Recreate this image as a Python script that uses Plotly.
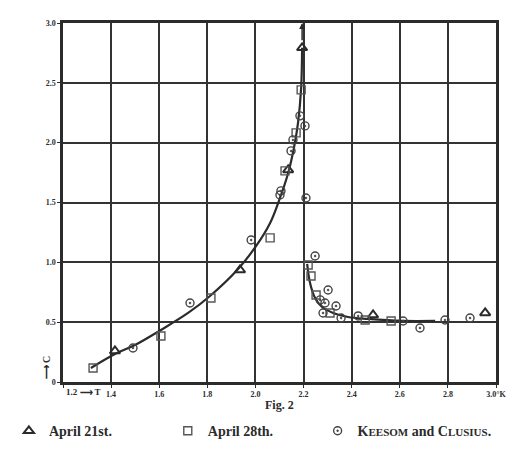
import plotly.graph_objects as go

# ---- data (T in K, specific heat) ----
curve_low_T = [1.316, 1.416, 1.499, 1.607, 1.720, 1.811, 1.928, 2.003, 2.061, 2.102, 2.136, 2.160, 2.177, 2.190, 2.194]
curve_low_C = [0.117, 0.234, 0.309, 0.435, 0.577, 0.719, 0.945, 1.137, 1.329, 1.538, 1.747, 1.956, 2.165, 2.458, 2.793]
curve_high_T = [2.215, 2.227, 2.248, 2.277, 2.323, 2.385, 2.468, 2.614, 2.747]
curve_high_C = [0.987, 0.828, 0.702, 0.627, 0.577, 0.543, 0.527, 0.510, 0.510]

tri_T = [2.194, 2.489, 2.955, 1.936, 1.416, 2.136]
tri_C = [2.793, 0.560, 0.577, 0.936, 0.259, 1.772]

sq_T = [1.325, 1.607, 1.815, 2.061, 2.123, 2.169, 2.190, 2.219, 2.231, 2.252, 2.310, 2.564, 2.456]
sq_C = [0.117, 0.385, 0.702, 1.204, 1.764, 2.082, 2.441, 0.978, 0.886, 0.727, 0.577, 0.510, 0.518]

circ_T = [1.491, 1.728, 1.982, 2.106, 2.156, 2.148, 2.185, 2.206, 2.210, 2.248, 2.302, 2.269, 2.289, 2.335, 2.281, 2.356, 2.427, 2.614, 2.684, 2.788, 2.892, 2.102]
circ_C = [0.284, 0.660, 1.187, 1.597, 2.023, 1.931, 2.224, 2.140, 1.538, 1.053, 0.769, 0.686, 0.660, 0.635, 0.577, 0.535, 0.552, 0.510, 0.451, 0.518, 0.535, 1.563]

x_ticks = [1.2, 1.4, 1.6, 1.8, 2.0, 2.2, 2.4, 2.6, 2.8, 3.0]
x_ticktext = ["", "1.4", "1.6", "1.8", "2.0", "2.2", "2.4", "2.6", "2.8", "3.0°K"]
y_ticks = [0, 0.5, 1.0, 1.5, 2.0, 2.5, 3.0]
y_ticktext = ["0", "0.5", "1.0", "1.5", "2.0", "2.5", "3.0"]

INK = "#2b2b2b"
FONT = "Liberation Serif"

fig = go.Figure()
fig.add_trace(go.Scatter(x=curve_low_T, y=curve_low_C, mode="lines", line=dict(color=INK, width=2.2, shape="spline"),
                         showlegend=False, hoverinfo="skip"))
fig.add_trace(go.Scatter(x=curve_high_T, y=curve_high_C, mode="lines", line=dict(color=INK, width=2.2, shape="spline"),
                         showlegend=False, hoverinfo="skip"))
fig.add_trace(go.Scatter(x=tri_T, y=tri_C, mode="markers", name="<b>April 21st.</b>", legend="legend",
                         marker=dict(symbol="triangle-up-open", size=9, color=INK, line=dict(width=2, color=INK))))
fig.add_trace(go.Scatter(x=sq_T, y=sq_C, mode="markers", name="<b>April 28th.</b>", legend="legend2",
                         marker=dict(symbol="square-open", size=8, color="#555555", line=dict(width=1.4, color="#555555"))))
fig.add_trace(go.Scatter(x=circ_T, y=circ_C, mode="markers", legend="legend3",
                         name="<b>K<span style='font-size:11px'>EESOM</span> and C<span style='font-size:11px'>LUSIUS</span>.</b>",
                         marker=dict(symbol="circle-open-dot", size=8, color="#444444", line=dict(width=1.4, color="#444444"))))

# arrow above the peak
fig.add_annotation(x=tri_T[0], y=3.0, ax=tri_T[0], ay=tri_C[0] + 0.05, xref="x", yref="y", axref="x", ayref="y",
                   showarrow=True, arrowhead=2, arrowsize=0.8, arrowwidth=1.5, arrowcolor=INK, text="")

fig.add_annotation(x=1.2, y=0, xref="x", yref="y", yshift=-10, xshift=1, xanchor="left", showarrow=False,
                   text="<b>1.2 ⟶ T</b>", font=dict(family=FONT, size=9, color=INK))
fig.add_annotation(x=-0.02, y=0.12, xref="paper", yref="y", textangle=-90, showarrow=False, xanchor="right",
                   text="<b>⟶ C</b>", font=dict(family=FONT, size=10, color=INK))
fig.add_annotation(x=0.5, y=-0.09, xref="paper", yref="paper", showarrow=False,
                   text="<b>Fig. 2</b>", font=dict(family=FONT, size=12, color=INK))

axis_common = dict(showgrid=True, gridcolor="#333333", gridwidth=2.2, showline=True, linecolor=INK, linewidth=2.5,
                   mirror=True, zeroline=False, tickfont=dict(family=FONT, size=8, color=INK),
                   ticks="outside", ticklen=3, tickcolor=INK)
fig.update_xaxes(range=[1.2, 3.0], tickvals=x_ticks, ticktext=["<b>%s</b>" % t for t in x_ticktext], **axis_common)
fig.update_yaxes(range=[0, 3.0], tickvals=y_ticks, ticktext=["<b>%s</b>" % t for t in y_ticktext], **axis_common)

leg_common = dict(orientation="h", y=-0.137, xanchor="left", yanchor="middle",
                  font=dict(family=FONT, size=14, color=INK), bgcolor="rgba(0,0,0,0)")
fig.update_layout(
    width=516, height=468,
    margin=dict(l=55, r=28, t=15, b=94, autoexpand=False),
    paper_bgcolor="white", plot_bgcolor="white",
    font=dict(family=FONT, color=INK),
    legend=dict(x=-0.125, **leg_common),
    legend2=dict(x=0.242, **leg_common),
    legend3=dict(x=0.588, **leg_common),
)

fig.write_html("out.html")
